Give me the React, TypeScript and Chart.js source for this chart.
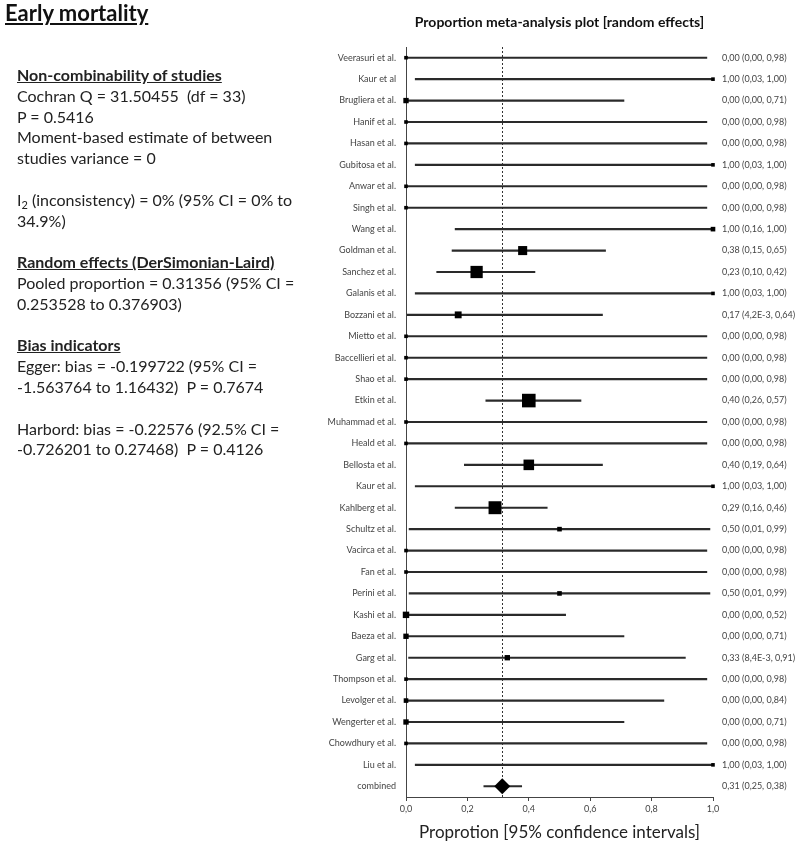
import React, { useEffect, useRef } from "react";
import { Chart, registerables } from "chart.js";

Chart.register(...registerables);

const FONT = "Lato, 'Open Sans', sans-serif";

const studies = [
  "Veerasuri et al.", "Kaur et al", "Brugliera et al.", "Hanif et al.", "Hasan et al.",
  "Gubitosa et al.", "Anwar et al.", "Singh et al.", "Wang et al.", "Goldman et al.",
  "Sanchez et al.", "Galanis et al.", "Bozzani et al.", "Mietto et al.", "Baccellieri et al.",
  "Shao et al.", "Etkin et al.", "Muhammad et al.", "Heald et al.", "Bellosta et al.",
  "Kaur et al.", "Kahlberg et al.", "Schultz et al.", "Vacirca et al.", "Fan et al.",
  "Perini et al.", "Kashi et al.", "Baeza et al.", "Garg et al.", "Thompson et al.",
  "Levolger et al.", "Wengerter et al.", "Chowdhury et al.", "Liu et al.",
];
const estimates = [
  0, 1, 0, 0, 0, 1, 0, 0, 1, 0.38, 0.23, 1, 0.17, 0, 0, 0, 0.4, 0, 0, 0.4,
  1, 0.29, 0.5, 0, 0, 0.5, 0, 0, 0.33, 0, 0, 0, 0, 1,
];
const ciLow = [
  0, 0.03, 0, 0, 0, 0.03, 0, 0, 0.16, 0.15, 0.1, 0.03, 0.0042, 0, 0, 0, 0.26, 0, 0, 0.19,
  0.03, 0.16, 0.01, 0, 0, 0.01, 0, 0, 0.0084, 0, 0, 0, 0, 0.03,
];
const ciHigh = [
  0.98, 1, 0.71, 0.98, 0.98, 1, 0.98, 0.98, 1, 0.65, 0.42, 1, 0.64, 0.98, 0.98, 0.98, 0.57, 0.98, 0.98, 0.64,
  1, 0.46, 0.99, 0.98, 0.98, 0.99, 0.52, 0.71, 0.91, 0.98, 0.84, 0.71, 0.98, 1,
];
// study sample sizes (drive marker size)
const sampleSizes = [
  1, 1, 3, 1, 1, 1, 1, 1, 2, 13, 30, 1, 6, 1, 1, 1, 40, 1, 1, 20,
  1, 35, 2, 1, 1, 2, 5, 3, 3, 1, 2, 3, 1, 1,
];
const pooledLabel = "combined";
const pooled = 0.31356;
const pooledLow = 0.253528;
const pooledHigh = 0.376903;
const xTicks = [0, 0.2, 0.4, 0.6, 0.8, 1.0];

const fmt = (v: number) => {
  if (v > 0 && v < 0.01) return v.toExponential(1).replace(".", ",").replace("e-", "E-");
  return v.toFixed(2).replace(".", ",");
};

const pooledLinePlugin = {
  id: "pooledLine",
  beforeDatasetsDraw(chart: any) {
    const { ctx, chartArea, scales } = chart;
    const x = Math.round(scales.x.getPixelForValue(pooled)) + 0.5;
    ctx.save();
    ctx.strokeStyle = "#333";
    ctx.lineWidth = 1;
    ctx.setLineDash([2, 2]);
    ctx.beginPath();
    ctx.moveTo(x, chartArea.top);
    ctx.lineTo(x, chartArea.bottom);
    ctx.stroke();
    ctx.restore();
  },
};

function ForestChart() {
  const ref = useRef<HTMLCanvasElement | null>(null);
  useEffect(() => {
    if (!ref.current) return;
    const labels = [...studies, pooledLabel];
    const est = [...estimates, pooled];
    const lo = [...ciLow, pooledLow];
    const hi = [...ciHigh, pooledHigh];
    const rightLabels = est.map((e, i) => `${fmt(e)} (${fmt(lo[i])}, ${fmt(hi[i])})`);
    const tickFont = { family: FONT, size: 9 };
    const chart = new Chart(ref.current, {
      type: "bar",
      data: {
        labels,
        datasets: [
          {
            type: "bar",
            indexAxis: "y",
            data: lo.map((l, i) => [l, hi[i]]),
            backgroundColor: "#2a2a2a",
            borderWidth: 0,
            barThickness: 1.5,
            xAxisID: "x",
            yAxisID: "y",
            order: 2,
          } as any,
          {
            type: "line",
            indexAxis: "y",
            data: est,
            showLine: false,
            pointStyle: [...studies.map(() => "rect"), "rectRot"],
            pointRadius: [...sampleSizes.map((n) => (3.6 * Math.pow(n, 0.36)) / Math.SQRT2), 8],
            pointBackgroundColor: "#000",
            pointBorderColor: "#000",
            pointBorderWidth: 0,
            clip: false,
            xAxisID: "x",
            yAxisID: "y",
            order: 1,
          } as any,
        ],
      },
      options: {
        indexAxis: "y",
        animation: false,
        responsive: false,
        maintainAspectRatio: false,
        layout: { padding: { top: 47, left: 0, right: 0, bottom: 0 } },
        plugins: { legend: { display: false }, tooltip: { enabled: false }, title: { display: false } },
        scales: {
          x: {
            type: "linear",
            position: "bottom",
            min: 0,
            max: 1,
            afterBuildTicks: (s: any) => {
              s.ticks = xTicks.map((v) => ({ value: v }));
            },
            ticks: {
              callback: (v: any) => Number(v).toFixed(1).replace(".", ","),
              font: tickFont,
              color: "#444",
              padding: 3,
              maxRotation: 0,
              autoSkip: false,
            },
            grid: { display: true, drawOnChartArea: false, drawTicks: true, tickLength: 4, color: "#444" },
            border: { display: true, color: "#444", width: 1 },
            title: {
              display: true,
              text: "Proprotion [95% confidence intervals]",
              font: { family: FONT, size: 17 },
              color: "#222",
              padding: { top: 13, bottom: 13 },
            },
            afterFit: (s: any) => {
              s.height = 59;
            },
          },
          y: {
            type: "category",
            position: "left",
            offset: true,
            grid: { display: false },
            border: { display: true, color: "#444", width: 1 },
            ticks: { font: tickFont, color: "#444", padding: 2, autoSkip: false },
            afterFit: (s: any) => {
              s.width = 406;
            },
          },
          y2: {
            type: "category",
            position: "right",
            labels: rightLabels,
            offset: true,
            grid: { display: false },
            border: { display: false },
            ticks: { font: tickFont, color: "#444", padding: 1, autoSkip: false },
            afterFit: (s: any) => {
              s.width = 84;
            },
          },
        } as any,
      },
      plugins: [pooledLinePlugin],
    } as any);
    return () => chart.destroy();
  }, []);
  return <canvas ref={ref} width={797} height={856} style={{ position: "absolute", left: 0, top: 0 }} />;
}

const heading: React.CSSProperties = { fontWeight: 700, textDecoration: "underline" };

export default function App() {
  return (
    <div style={{ position: "absolute", left: 0, top: 0, width: 797, height: 856, background: "#fff", overflow: "hidden" }}>
      <ForestChart />
      <div
        style={{
          position: "absolute", left: 5, top: 0, fontFamily: FONT, fontSize: 22, fontWeight: 700,
          textDecoration: "underline", color: "#111", lineHeight: "26px",
        }}
      >
        Early mortality
      </div>
      <div
        style={{
          position: "absolute", left: 406, width: 307, top: 13, textAlign: "center", fontFamily: FONT,
          fontSize: 14, fontWeight: 700, color: "#111", lineHeight: "17px", whiteSpace: "nowrap",
        }}
      >
        Proportion meta-analysis plot [random effects]
      </div>
      <div
        style={{
          position: "absolute", left: 17, top: 65, fontFamily: FONT, fontSize: 16, lineHeight: "20.8px",
          color: "#222", whiteSpace: "pre",
        }}
      >
        <div style={heading}>Non-combinability of studies</div>
        <div>Cochran Q = 31.50455  (df = 33)</div>
        <div>P = 0.5416</div>
        <div>Moment-based estimate of between</div>
        <div>studies variance = 0</div>
        <div>{" "}</div>
        <div>
          I<span style={{ fontSize: 11, position: "relative", top: 3, lineHeight: 0 }}>2</span> (inconsistency) = 0% (95% CI = 0% to
        </div>
        <div>34.9%)</div>
        <div>{" "}</div>
        <div style={heading}>Random effects (DerSimonian-Laird)</div>
        <div>Pooled proportion = 0.31356 (95% CI =</div>
        <div>0.253528 to 0.376903)</div>
        <div>{" "}</div>
        <div style={heading}>Bias indicators</div>
        <div>Egger: bias = -0.199722 (95% CI =</div>
        <div>-1.563764 to 1.16432)  P = 0.7674</div>
        <div>{" "}</div>
        <div>Harbord: bias = -0.22576 (92.5% CI =</div>
        <div>-0.726201 to 0.27468)  P = 0.4126</div>
      </div>
    </div>
  );
}
